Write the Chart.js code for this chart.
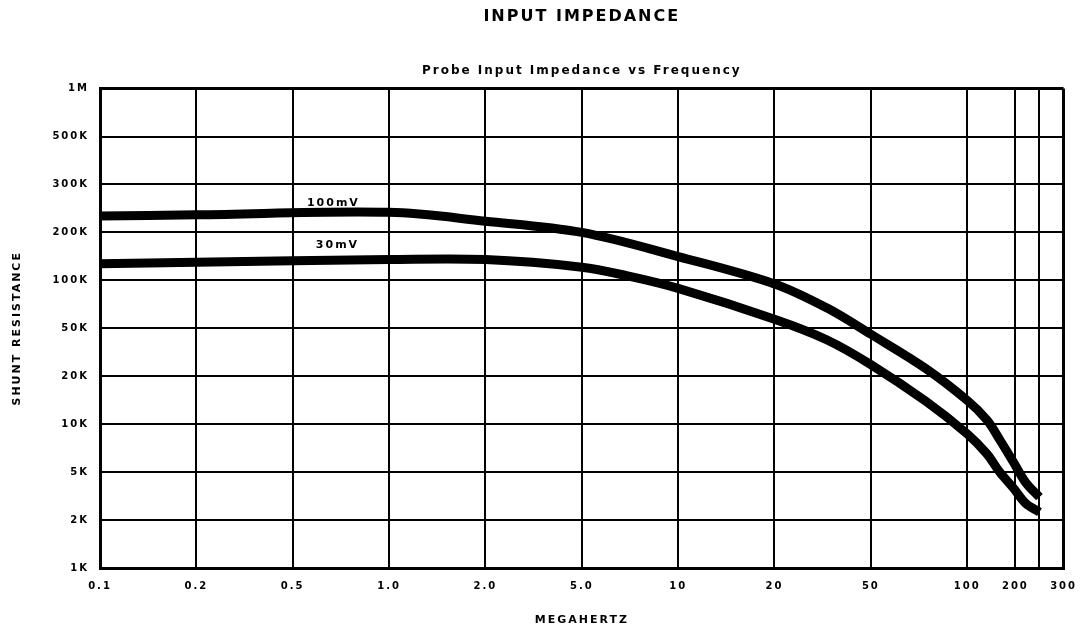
<!DOCTYPE html>
<html><head><meta charset="utf-8">
<script src="https://cdn.jsdelivr.net/npm/chart.js@4"></script>
<style>html,body{margin:0;padding:0;background:#fff}#wrap{width:1089px;height:635px;position:relative}</style>
</head><body><div id="wrap"><canvas id="c"></canvas></div>
<script>
// ---- data (real units) ----
const freqGrid = [0.1, 0.2, 0.5, 1, 2, 5, 10, 20, 50, 100, 200, 250, 300];           // MHz grid lines
const freqTickLabels = ['0.1', '0.2', '0.5', '1.0', '2.0', '5.0', '10', '20', '50', '100', '200', '', '300'];
const resGrid = [1e3, 2e3, 5e3, 1e4, 2e4, 5e4, 1e5, 2e5, 3e5, 5e5, 1e6];            // ohms grid lines
const resTickLabels = ['1K', '2K', '5K', '10K', '20K', '50K', '100K', '200K', '300K', '500K', '1M'];

const freq100mV = [0.1, 0.2, 1.0, 2, 5, 10, 20, 33, 50, 74, 100, 133, 159.5, 194, 220, 250];
const res100mV  = [230e3, 232e3, 237e3, 220e3, 200e3, 141e3, 95e3, 67e3, 44.6e3, 23.3e3, 14.1e3, 10.6e3, 8.0e3, 5.8e3, 4.1e3, 3.1e3];

const freq30mV = [0.1, 0.2, 1.0, 2, 5, 6.9, 10, 20, 33, 50, 74, 100, 133, 159.5, 194, 220, 250];
const res30mV  = [127e3, 130e3, 135e3, 135e3, 121e3, 107e3, 89e3, 57e3, 40e3, 25e3, 14e3, 8.7e3, 6.5e3, 5.0e3, 3.7e3, 2.75e3, 2.33e3];

const curveLabels = [
  { text: '100mV', freq: 0.67, res: 257e3 },
  { text: '30mV',  freq: 0.69, res: 166e3 }
];

// ---- layout of the hand-drawn grid (position of each grid line on the axis) ----
const freqGridPos = [0, 1, 2, 3, 4, 5, 6, 7, 8, 9, 9.5, 9.75, 10];
const resGridPos  = [0, 1, 2, 3, 4, 5, 6, 7, 8, 9, 10];

function toPos(v, grid, pos) {
  let i = 0;
  while (i < grid.length - 2 && v > grid[i + 1]) i++;
  const t = Math.log(v / grid[i]) / Math.log(grid[i + 1] / grid[i]);
  return pos[i] + t * (pos[i + 1] - pos[i]);
}
function series(fr, rs) {
  return fr.map((f, i) => ({ x: toPos(f, freqGrid, freqGridPos), y: toPos(rs[i], resGrid, resGridPos) }));
}

const FONT = "'DejaVu Sans', 'Liberation Sans', sans-serif";

const spacingPlugin = {
  id: 'spacing',
  beforeUpdate(chart) { chart.ctx.letterSpacing = '2px'; },
  beforeDraw(chart) { chart.ctx.letterSpacing = '2px'; }
};

const labelPlugin = {
  id: 'curveLabels',
  afterDatasetsDraw(chart) {
    const { ctx, scales: { x, y } } = chart;
    ctx.save();
    ctx.letterSpacing = '2px';
    ctx.font = 'bold 11px ' + FONT;
    ctx.fillStyle = '#000';
    ctx.textAlign = 'center';
    ctx.textBaseline = 'middle';
    curveLabels.forEach(l => {
      ctx.fillText(l.text, x.getPixelForValue(toPos(l.freq, freqGrid, freqGridPos)),
                           y.getPixelForValue(toPos(l.res, resGrid, resGridPos)));
    });
    ctx.restore();
  }
};

const lineStyle = { borderColor: '#000', backgroundColor: '#000', borderWidth: 9, pointRadius: 0,
  fill: false, tension: 0.35, borderJoinStyle: 'round', borderCapStyle: 'butt' };

new Chart(document.getElementById('c'), {
  type: 'line',
  data: {
    datasets: [
      Object.assign({ label: '100mV', data: series(freq100mV, res100mV) }, lineStyle),
      Object.assign({ label: '30mV', data: series(freq30mV, res30mV) }, lineStyle)
    ]
  },
  options: {
    responsive: true,
    maintainAspectRatio: false,
    animation: false,
    layout: { padding: { left: 0, right: 19, top: 0, bottom: 0 } },
    plugins: {
      legend: { display: false },
      tooltip: { enabled: false },
      title: { display: true, text: 'INPUT IMPEDANCE', fullSize: false, color: '#000',
        font: { family: FONT, size: 16, weight: 'bold' }, padding: { top: 7, bottom: 10 } },
      subtitle: { display: true, text: 'Probe Input Impedance vs Frequency', fullSize: false, color: '#000',
        font: { family: FONT, size: 12, weight: 'bold' }, padding: { top: 27, bottom: 11 } }
    },
    scales: {
      x: {
        type: 'linear', min: 0, max: 10,
        afterBuildTicks: s => { s.ticks = freqGridPos.map(v => ({ value: v })); },
        afterFit: s => { s.height = 67; },
        ticks: { autoSkip: false, maxRotation: 0, color: '#000', padding: 12,
          font: { family: FONT, size: 10, weight: 'bold' },
          callback: (v, i) => freqTickLabels[i] },
        grid: { color: '#000', drawTicks: false, lineWidth: c => (c.index === freqGridPos.length - 1 ? 3 : 2) },
        border: { display: true, color: '#000', width: 3 },
        title: { display: true, text: 'MEGAHERTZ', color: '#000',
          font: { family: FONT, size: 11, weight: 'bold' }, padding: { top: 0, bottom: 8 } }
      },
      y: {
        type: 'linear', min: 0, max: 10,
        afterBuildTicks: s => { s.ticks = resGridPos.map(v => ({ value: v })); },
        afterFit: s => { s.width = 100; },
        ticks: { autoSkip: false, color: '#000', padding: 11,
          font: { family: FONT, size: 10, weight: 'bold' },
          callback: (v, i) => resTickLabels[i] },
        grid: { color: '#000', drawTicks: false, lineWidth: c => (c.index === resGridPos.length - 1 ? 3 : 2) },
        border: { display: true, color: '#000', width: 3 },
        title: { display: true, text: 'SHUNT RESISTANCE', color: '#000',
          font: { family: FONT, size: 11, weight: 'bold' }, padding: { top: 11, bottom: 0 } }
      }
    }
  },
  plugins: [spacingPlugin, labelPlugin]
});
</script>
</body></html>
